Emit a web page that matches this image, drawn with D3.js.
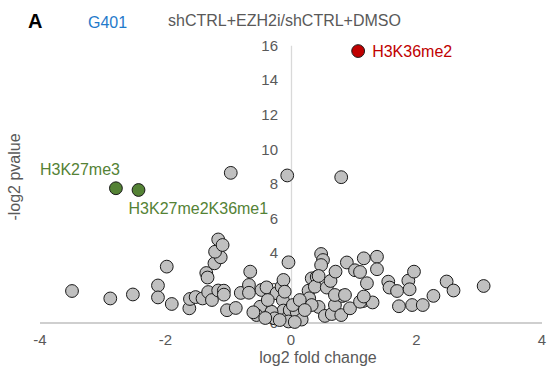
<!DOCTYPE html>
<html><head><meta charset="utf-8">
<script src="https://cdn.jsdelivr.net/npm/d3@7"></script>
<style>body{margin:0;background:#fff}svg{display:block;font-family:"Liberation Sans",Arial,Helvetica,sans-serif}</style>
</head><body><svg id="c" width="549" height="368"></svg>
<script>
const xTicks = [-4, -2, 0, 2, 4];
const yTicks = [0, 2, 4, 6, 8, 10, 12, 14, 16];
// gray points: [log2 fold change, -log2 pvalue]
const grayX = [-3.49,-2.88,-2.52,-2.12,-2.12,-1.98,-1.90,-1.62,-1.61,-1.52,-1.41,-1.32,-1.26,-1.35,-1.33,-1.22,-1.12,-1.21,-1.16,-1.09,-1.16,-1.07,-1.07,-1.02,-0.88,-0.80,-0.65,-0.67,-0.67,-0.47,-0.39,-0.49,-0.55,-0.60,-0.28,-0.23,-0.15,-0.12,-0.13,-0.12,-0.04,-0.10,-0.04,-0.02,-0.31,-0.26,-0.04,0.09,0.17,0.28,0.29,0.33,0.41,0.48,0.51,0.48,0.38,0.57,0.63,0.71,0.44,0.54,0.65,0.33,0.70,0.80,0.82,0.70,0.89,0.94,1.02,1.10,1.16,1.37,1.37,1.21,1.15,1.30,1.10,1.16,1.55,1.57,1.69,1.72,1.87,1.96,1.89,1.93,2.10,2.27,2.48,2.59,3.07,0.86,0.44,0.06,-0.18,0.03,0.14,0.22,-0.37,-0.41,-0.96,-0.06,0.80];
const grayY = [1.82,1.39,1.62,2.14,1.45,3.23,1.07,0.82,1.36,1.47,1.39,1.76,1.30,2.86,2.60,3.42,3.77,4.09,4.80,4.48,1.85,1.84,1.61,0.71,0.84,1.71,2.94,2.17,1.72,1.88,2.03,0.91,0.43,0.59,0.26,1.69,2.07,2.46,1.30,0.69,3.48,1.78,0.34,0.72,0.62,0.24,0.06,0.62,0.17,1.84,1.40,2.55,2.63,3.96,3.61,3.32,2.07,2.02,2.40,2.94,0.90,0.38,0.49,1.01,1.01,0.43,1.53,1.59,3.47,0.82,3.02,2.92,3.71,3.80,3.08,2.27,1.24,1.16,1.20,1.50,2.36,2.02,1.82,0.94,2.42,2.94,1.92,1.01,1.01,1.54,2.37,1.85,2.11,1.59,2.69,0.03,0.14,1.01,1.30,0.72,1.30,0.26,8.65,8.50,8.40];
const hiNames = ["H3K36me2", "H3K27me3", "H3K27me2K36me1"];
const hiX = [1.07, -2.79, -2.43];
const hiY = [15.69, 7.76, 7.66];
const hiColors = ["#c00000", "#548235", "#548235"];
const hiDx = [14, -76, -10];
const hiDy = [5.5, -13, 24];

const svg = d3.select("#c");
const x = d3.scaleLinear().domain([-4, 4]).range([40, 542]);
const y = d3.scaleLinear().domain([0, 16]).range([322.5, 45.7]);
const tc = "#595959";

// vertical line at x=0
svg.append("line").attr("x1", x(0)+0.5).attr("x2", x(0)+0.5).attr("y1", y(16)).attr("y2", y(0))
  .attr("stroke", "#d9d9d9").attr("stroke-width", 1.3);
// y tick labels
svg.selectAll(".yt").data(yTicks).enter().append("text")
  .attr("x", x(0) - 13).attr("y", d => y(d) + 5).attr("text-anchor", "end")
  .attr("font-size", 15).attr("fill", tc).text(d => d);
// x axis line
svg.append("line").attr("x1", x(-4)).attr("x2", x(4)).attr("y1", y(0)+0.5).attr("y2", y(0)+0.5)
  .attr("stroke", "#bfbfbf").attr("stroke-width", 1.3);
svg.selectAll(".xt").data(xTicks).enter().append("text")
  .attr("x", d => x(d)).attr("y", 345).attr("text-anchor", "middle")
  .attr("font-size", 15).attr("fill", tc).text(d => d);

// gray points
const gray = grayX.map((v, i) => [v, grayY[i]]);
svg.selectAll(".g").data(gray).enter().append("circle")
  .attr("cx", d => x(d[0])).attr("cy", d => y(d[1])).attr("r", 6.4)
  .attr("fill", "#c0c0c0").attr("stroke", "#1a1a1a").attr("stroke-width", 1);
// highlighted
const hi = hiNames.map((n, i) => ({n, x: hiX[i], y: hiY[i], c: hiColors[i], dx: hiDx[i], dy: hiDy[i]}));
svg.selectAll(".h").data(hi).enter().append("circle")
  .attr("cx", d => x(d.x)).attr("cy", d => y(d.y)).attr("r", 6.4)
  .attr("fill", d => d.c).attr("stroke", "#1a1a1a").attr("stroke-width", 1);
svg.selectAll(".hl").data(hi).enter().append("text")
  .attr("x", d => x(d.x) + d.dx).attr("y", d => y(d.y) + d.dy)
  .attr("font-size", 16).attr("fill", d => d.c).text(d => d.n);

// titles
svg.append("text").attr("x", 28).attr("y", 28).attr("font-size", 20).attr("font-weight", "bold").attr("fill", "#000").text("A");
svg.append("text").attr("x", 88).attr("y", 28).attr("font-size", 16).attr("fill", "#1f7acb").text("G401");
svg.append("text").attr("x", 168).attr("y", 26).attr("font-size", 16).attr("fill", tc).text("shCTRL+EZH2i/shCTRL+DMSO");
svg.append("text").attr("x", 318).attr("y", 363).attr("text-anchor", "middle").attr("font-size", 16).attr("fill", tc).text("log2 fold change");
svg.append("text").attr("transform", "translate(20,177) rotate(-90)").attr("text-anchor", "middle").attr("font-size", 16).attr("fill", tc).text("-log2 pvalue");
</script></body></html>
